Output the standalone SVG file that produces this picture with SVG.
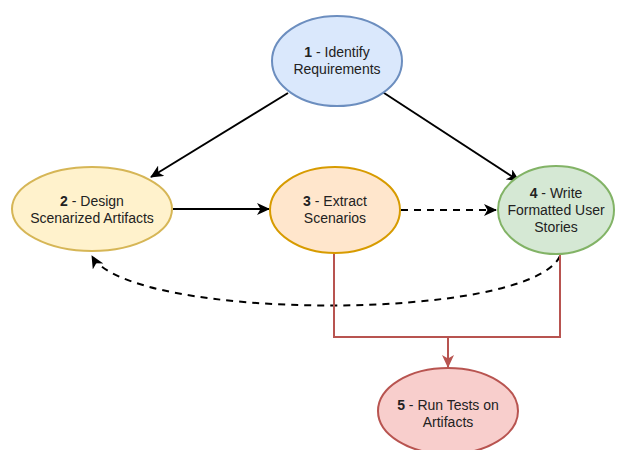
<svg xmlns="http://www.w3.org/2000/svg" width="617" height="450" viewBox="0 0 617 450">
<style>
  text { font-family: "Liberation Sans", Arial, Helvetica, sans-serif; font-size: 14px; fill: #222; text-anchor: middle; }
  .b { font-weight: bold; }
  .e { stroke-width: 2; }
  .c { fill: none; stroke: #000; stroke-width: 2; }
  .d { stroke-dasharray: 7 6; }
  .r { fill: none; stroke: #b85450; stroke-width: 2; }
</style>
<defs>
  <marker id="ab" markerUnits="userSpaceOnUse" markerWidth="14" markerHeight="12" refX="12" refY="6" orient="auto">
    <path d="M0,0 L13,6 L0,12 L3.5,6 z" fill="#000"/>
  </marker>
  <marker id="ar" markerUnits="userSpaceOnUse" markerWidth="14" markerHeight="12" refX="12" refY="6" orient="auto">
    <path d="M0,0 L13,6 L0,12 L3.5,6 z" fill="#b85450"/>
  </marker>
</defs>
<rect width="617" height="450" fill="#fff"/>
<g id="connectors">
  <path class="c" d="M288 93 L151 177" marker-end="url(#ab)"/>
  <path class="c" d="M381 91 L519 181" marker-end="url(#ab)"/>
  <path class="c" d="M173 209 L269 209" marker-end="url(#ab)"/>
  <path class="c d" d="M401 210 L496 210" marker-end="url(#ab)"/>
  <path class="c d" d="M560 256 C530 322, 130 322, 92 256" marker-end="url(#ab)"/>
  <path class="r" d="M334 253 L334 337 L560 337 L560 254"/>
  <path class="r" d="M448 337 L448 367" marker-end="url(#ar)"/>
</g>
<g id="node1">
  <ellipse class="e" cx="337" cy="61" rx="65" ry="45" fill="#dae8fc" stroke="#6c8ebf"/>
  <text x="337" y="57"><tspan class="b">1</tspan> - Identify</text>
  <text x="337" y="74">Requirements</text>
</g>
<g id="node2">
  <ellipse class="e" cx="92" cy="209" rx="80" ry="42" fill="#fff2cc" stroke="#d6b656"/>
  <text x="92" y="206"><tspan class="b">2</tspan> - Design</text>
  <text x="92" y="223">Scenarized Artifacts</text>
</g>
<g id="node3">
  <ellipse class="e" cx="335" cy="210" rx="65" ry="43" fill="#ffe6cc" stroke="#d79b00"/>
  <text x="335" y="206"><tspan class="b">3</tspan> - Extract</text>
  <text x="335" y="223">Scenarios</text>
</g>
<g id="node4">
  <ellipse class="e" cx="556" cy="210" rx="58" ry="44" fill="#d5e8d4" stroke="#82b366"/>
  <text x="556" y="198"><tspan class="b">4</tspan> - Write</text>
  <text x="556" y="215">Formatted User</text>
  <text x="556" y="232">Stories</text>
</g>
<g id="node5">
  <ellipse class="e" cx="448" cy="411" rx="70" ry="43" fill="#f8cecc" stroke="#b85450"/>
  <text x="448" y="410"><tspan class="b">5</tspan> - Run Tests on</text>
  <text x="448" y="427">Artifacts</text>
</g>
</svg>
